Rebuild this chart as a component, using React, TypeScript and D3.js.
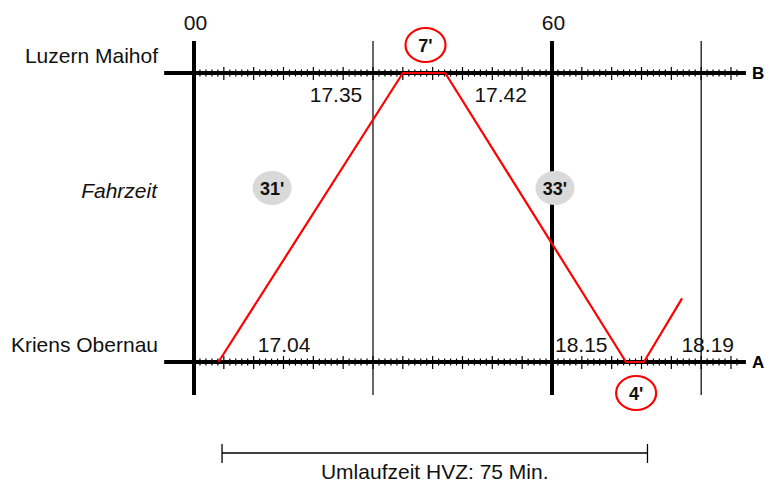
import React from "react";
import * as d3 from "d3";

// ---- data ----
const stationNames = ["Kriens Obernau", "Luzern Maihof"];
const stationCodes = ["A", "B"];
const hourLabels = ["00", "60"];
const hourMinutes = [0, 60];
const gridMinutes = [0, 30, 60, 85];
const gridHeavy = [true, false, true, false];
// red run line: minutes after the hour and relative position (0 = A, 1 = B)
const tripMinutes = [4.1, 35, 42.1, 72.4, 75.4, 81.8];
const tripPosition = [0, 1, 1, 0, 0, 0.22];
const timeLabels = ["17.04", "17.35", "17.42", "18.15", "18.19"];
const timeLabelStation = [0, 1, 1, 0, 0];
const timeLabelMinute = [15.1, 23.8, 51.4, 64.9, 86.1];
const runLabels = ["31'", "33'"];
const runLabelMinute = [13.1, 60.5];
const stopLabels = ["7'", "4'"];
const stopLabelMinute = [38.8, 74.1];
const stopLabelStation = [1, 0];
const cycleLabel = "Umlaufzeit HVZ: 75 Min.";
const cycleMinutes = [4.7, 76.0];
const middleLabel = "Fahrzeit";

const FONT = "'Liberation Sans', Arial, Helvetica, sans-serif";

export default function App() {
  const W = 765, H = 484;
  const x = d3.scaleLinear().domain([0, 60]).range([194, 552]);
  const y = d3.scaleLinear().domain([0, 1]).range([362, 73]);
  const axisStart = -5, axisEnd = 92.5;
  const ticks = d3.range(0, 92);
  const line = d3
    .line<number>()
    .x((_, i) => x(tripMinutes[i]))
    .y((_, i) => y(tripPosition[i]));

  return (
    <svg
      width={W}
      height={H}
      style={{ position: "absolute", left: 0, top: 0, background: "#fff" }}
      fontFamily={FONT}
    >
      <rect width={W} height={H} fill="#fff" />
      {/* vertical grid lines */}
      {gridMinutes.map((m, i) => (
        <line
          key={"g" + i}
          x1={x(m)}
          x2={x(m)}
          y1={41}
          y2={395}
          stroke="#000"
          strokeWidth={gridHeavy[i] ? 4 : 1.2}
        />
      ))}
      {/* station axes */}
      {[0, 1].map((s) => (
        <g key={"ax" + s}>
          <line
            x1={x(axisStart)}
            x2={x(axisEnd)}
            y1={y(s)}
            y2={y(s)}
            stroke="#000"
            strokeWidth={4}
          />
          {ticks.map((t) => (
            <line
              key={t}
              x1={x(t)}
              x2={x(t)}
              y1={y(s) - (t % 5 === 0 ? 6 : 3.5)}
              y2={y(s) + (t % 5 === 0 ? 7 : 3.5)}
              stroke="#000"
              strokeWidth={1.2}
            />
          ))}
          <text
            x={x(axisEnd) + 6}
            y={y(s) + 6}
            fontSize={17}
            fontWeight="bold"
            fill="#000"
          >
            {stationCodes[s]}
          </text>
          <text
            x={158}
            y={y(s) - 10}
            fontSize={21}
            textAnchor="end"
            fill="#111"
          >
            {stationNames[s]}
          </text>
        </g>
      ))}
      <text x={157} y={198} fontSize={21} fontStyle="italic" textAnchor="end" fill="#111">
        {middleLabel}
      </text>
      {/* hour labels */}
      {hourLabels.map((h, i) => (
        <text
          key={"h" + i}
          x={x(hourMinutes[i]) + 1.5}
          y={30}
          fontSize={21}
          textAnchor="middle"
          fill="#111"
        >
          {h}
        </text>
      ))}
      {/* time labels */}
      {timeLabels.map((t, i) => (
        <text
          key={"t" + i}
          x={x(timeLabelMinute[i])}
          y={timeLabelStation[i] === 1 ? y(1) + 29 : y(0) - 10}
          fontSize={21}
          textAnchor="middle"
          fill="#111"
        >
          {t}
        </text>
      ))}
      {/* run line */}
      <path
        d={line(tripMinutes) || ""}
        fill="none"
        stroke="#ff0000"
        strokeWidth={2.2}
        strokeLinejoin="miter"
      />
      {/* run time labels */}
      {runLabels.map((r, i) => (
        <g key={"r" + i}>
          <ellipse cx={x(runLabelMinute[i])} cy={188} rx={19.5} ry={17} fill="#d9d9d9" />
          <text
            x={x(runLabelMinute[i])}
            y={194.5}
            fontSize={18}
            fontWeight="bold"
            textAnchor="middle"
            fill="#111"
          >
            {r}
          </text>
        </g>
      ))}
      {/* stop time labels */}
      {stopLabels.map((r, i) => {
        const cy = stopLabelStation[i] === 1 ? y(1) - 28 : y(0) + 31;
        return (
          <g key={"s" + i}>
            <ellipse
              cx={x(stopLabelMinute[i])}
              cy={cy}
              rx={20}
              ry={17}
              fill="none"
              stroke="#ff0000"
              strokeWidth={2.2}
            />
            <text
              x={x(stopLabelMinute[i])}
              y={cy + 6.5}
              fontSize={18}
              fontWeight="bold"
              textAnchor="middle"
              fill="#111"
            >
              {r}
            </text>
          </g>
        );
      })}
      {/* cycle bracket */}
      <line x1={x(cycleMinutes[0])} x2={x(cycleMinutes[1])} y1={453} y2={453} stroke="#000" strokeWidth={1.3} />
      {cycleMinutes.map((m, i) => (
        <line key={"c" + i} x1={x(m)} x2={x(m)} y1={444} y2={463} stroke="#000" strokeWidth={1.3} />
      ))}
      <text
        x={(x(cycleMinutes[0]) + x(cycleMinutes[1])) / 2}
        y={479}
        fontSize={21}
        textAnchor="middle"
        fill="#111"
      >
        {cycleLabel}
      </text>
    </svg>
  );
}
